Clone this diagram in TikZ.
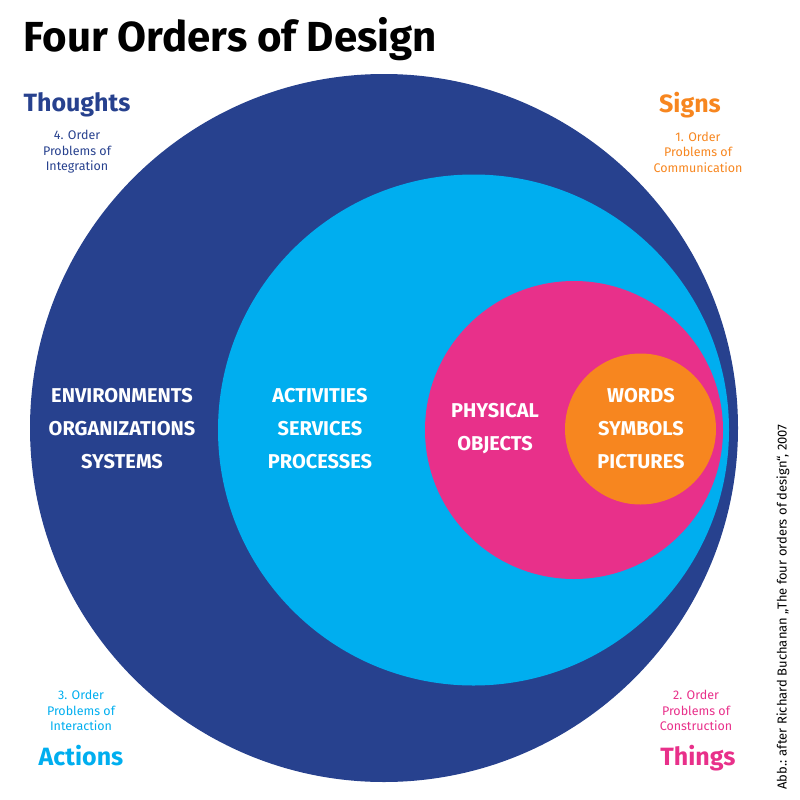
\documentclass[tikz,border=0pt]{standalone}
\usepackage{fontspec}
\setmainfont{Fira Sans}
\usetikzlibrary{positioning}
\definecolor{thoughtblue}{HTML}{27418E}
\definecolor{actionblue}{HTML}{00AEEF}
\definecolor{thingpink}{HTML}{E8308A}
\definecolor{signorange}{HTML}{F7861F}
\tikzset{
  ring/.style={circle, inner sep=0pt, fill=#1},
  inlabel/.style={text=white, font=\fontsize{20}{33}\selectfont\bfseries, align=center},
  corner/.style={text=#1, font=\fontsize{25}{26}\selectfont\bfseries},
  order/.style={text=#1, font=\fontsize{12.5}{15.5}\selectfont, align=center},
}
\begin{document}
\begin{tikzpicture}[x=1pt, y=-1pt] % {{{
\useasboundingbox (0,0) rectangle (800,800);
% Kreise {{{
\node[ring=thoughtblue, minimum size=708pt] (thoughts) at (384,428) {};
\node[ring=actionblue, minimum size=511pt] (actions) at (473.5,430) {};
\node[ring=thingpink, minimum size=298pt] (things) at (574,430) {};
\node[ring=signorange, minimum size=151pt] (signs) at (640.5,429) {};
% }}}
% Inhalt {{{
\node[inlabel] (lthoughts) at (122,429) {ENVIRONMENTS\\ORGANIZATIONS\\SYSTEMS};
\node[inlabel] (lactions) at (320,429) {ACTIVITIES\\SERVICES\\PROCESSES};
\node[inlabel] (lthings) at (495,428.5) {PHYSICAL\\OBJECTS};
\node[inlabel] (lsigns) at (641,429) {WORDS\\SYMBOLS\\PICTURES};
% }}}
% Titel und Ecken {{{
\node[anchor=base west, font=\fontsize{42}{42}\selectfont\bfseries] (title) at (20,52) {Four Orders of Design};
\node[corner=thoughtblue, anchor=base] (cthoughts) at (77,111) {Thoughts};
\node[order=thoughtblue] (othoughts) at (77,152) {4. Order\\Problems of\\Integration};
\node[corner=signorange, anchor=base] (csigns) at (690,112) {Signs};
\node[order=signorange] (osigns) at (698,152) {1. Order\\Problems of\\Communication};
\node[order=actionblue] (oactions) at (81,710.5) {3. Order\\Problems of\\Interaction};
\node[corner=actionblue, anchor=base] (cactions) at (81,765) {Actions};
\node[order=thingpink] (othings) at (696,710.5) {2. Order\\Problems of\\Construction};
\node[corner=thingpink, anchor=base] (cthings) at (698,765) {Things};
\node[rotate=90, font=\fontsize{13}{14}\selectfont] (source) at (783,607) {Abb.: after Richard Buchanan „The four orders of design“, 2007};
% }}}
\end{tikzpicture} % }}}
\end{document}
